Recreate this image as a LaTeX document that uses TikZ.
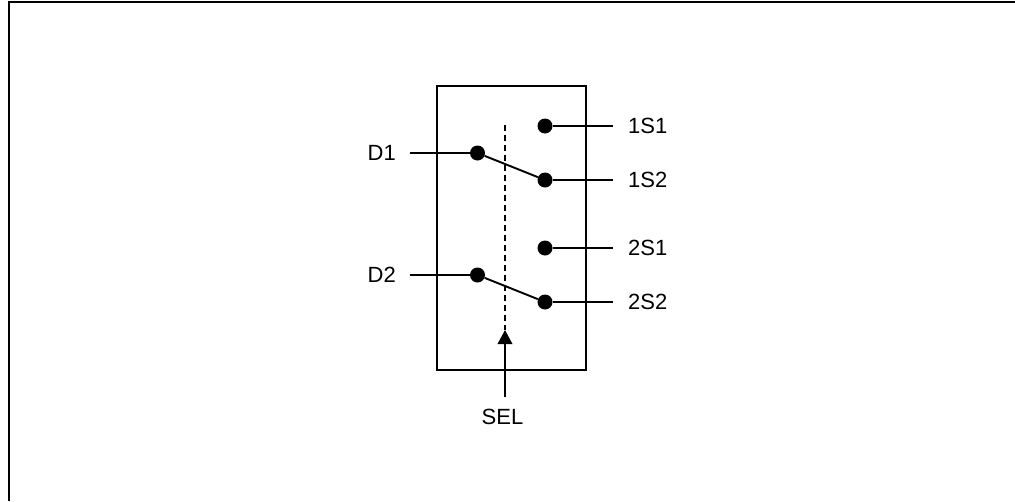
\documentclass[tikz,border=0pt]{standalone}
\usepackage{fontspec}
\setmainfont{Liberation Sans}
\usetikzlibrary{arrows.meta}
\tikzset{
  x=1pt,y=-1pt,
  wire/.style={line width=1.9pt,black},
  dot/.style={circle,fill=black,inner sep=0pt,minimum size=15pt},
  lbl/.style={font=\fontsize{22}{24}\selectfont,inner sep=0pt,text=black}
}
\begin{document}
\begin{tikzpicture}
\useasboundingbox (0,0) rectangle (1015,501);
\draw[line width=2pt,line cap=butt] (9,501) -- (9,2) -- (1015,2);
\draw[wire] (437,86) rectangle (586,370);
\node[dot] (a1) at (545,126) {};
\node[dot] (a2) at (545,180) {};
\node[dot] (a3) at (545,248) {};
\node[dot] (a4) at (545,302) {};
\node[dot] (d1) at (477.5,153) {};
\node[dot] (d2) at (477.5,275) {};
\node[lbl,anchor=west] (s1) at (628,126) {1S1};
\node[lbl,anchor=west] (s2) at (628,180) {1S2};
\node[lbl,anchor=west] (s3) at (628,248) {2S1};
\node[lbl,anchor=west] (s4) at (628,302) {2S2};
\node[lbl,anchor=east] (ld1) at (396,153) {D1};
\node[lbl,anchor=east] (ld2) at (396,275) {D2};
\node[lbl] (sel) at (502.5,417) {SEL};
\coordinate (e1) at (613,126);
\coordinate (e2) at (613,180);
\coordinate (e3) at (613,248);
\coordinate (e4) at (613,302);
\coordinate (f1) at (409.5,153);
\coordinate (f2) at (409.5,275);
\coordinate (top) at (505,125);
\coordinate (tip) at (505,330);
\coordinate (tail) at (505,397);
\draw[wire] (a1) -- (e1);
\draw[wire] (a2) -- (e2);
\draw[wire] (a3) -- (e3);
\draw[wire] (a4) -- (e4);
\draw[wire] (f1) -- (d1);
\draw[wire] (f2) -- (d2);
\draw[wire] (d1) -- (a2);
\draw[wire] (d2) -- (a4);
\draw[wire,dash pattern=on 6pt off 4pt] (top) -- (tip);
\draw[wire,-{Triangle[length=14pt,width=14.5pt]}] (tail) -- (tip);
\end{tikzpicture}
\end{document}
